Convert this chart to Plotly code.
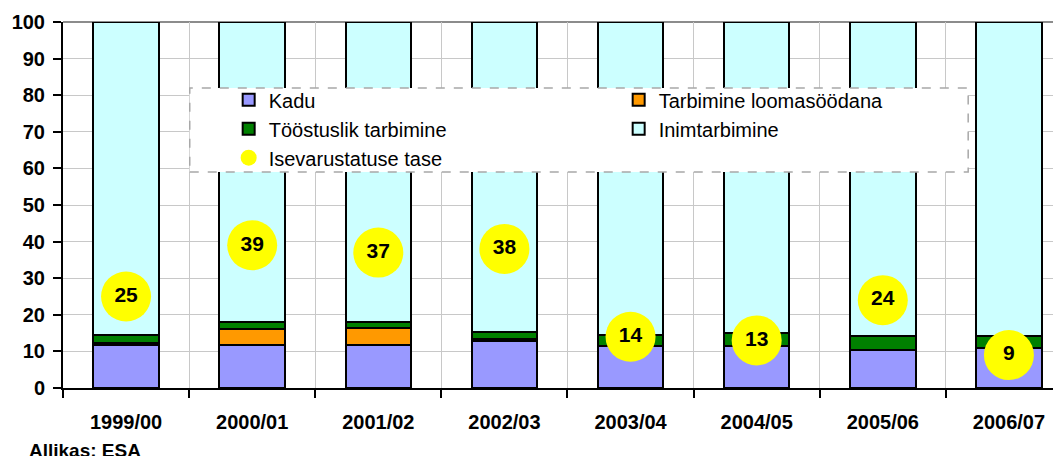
import plotly.graph_objects as go

# Estimated from the reference chart (percent of total use, stacked to 100)
years = ["1999/00", "2000/01", "2001/02", "2002/03", "2003/04", "2004/05", "2005/06", "2006/07"]
kadu = [11.8, 11.8, 11.8, 12.9, 11.4, 11.4, 10.4, 11.0]
loomasoot = [0.6, 4.4, 4.6, 0.4, 0.0, 0.0, 0.0, 0.0]
toostus = [2.0, 1.7, 1.6, 2.0, 3.0, 3.6, 3.9, 3.1]
isevarustatus = [25, 39, 37, 38, 14, 13, 24, 9]

inim = [round(100 - a - b - c, 1) for a, b, c in zip(kadu, loomasoot, toostus)]

FONT = "Liberation Sans, Arial, sans-serif"
BORDER = dict(color="black", width=2)

fig = go.Figure()
for name, vals, color in [
    ("Kadu", kadu, "#9999FF"),
    ("Tarbimine loomasöödana", loomasoot, "#FF9900"),
    ("Tööstuslik tarbimine", toostus, "#008000"),
    ("Inimtarbimine", inim, "#CCFFFF"),
]:
    fig.add_trace(go.Bar(x=years, y=vals, name=name, width=0.52,
                         marker=dict(color=color, line=BORDER)))

# Self-sufficiency bubbles sit at their own value on the same axis
fig.add_trace(go.Scatter(
    x=years, y=isevarustatus, name="Isevarustatuse tase",
    mode="markers+text", text=[str(v) for v in isevarustatus],
    textposition="middle center",
    textfont=dict(family=FONT, size=21, color="black", weight="bold"),
    marker=dict(size=50, color="#FFFF00", line=dict(width=0)),
    cliponaxis=False,
))

# the page body adds an 8px offset, so margins are shifted by 8 to compensate
fig.update_layout(
    width=1061, height=456,
    barmode="stack",
    plot_bgcolor="white", paper_bgcolor="white",
    margin=dict(l=55, r=8, t=14, b=76, autoexpand=False),
    font=dict(family=FONT, color="black"),
    showlegend=True,
    legend=dict(
        orientation="h", entrywidth=345, traceorder="normal",
        x=0.166, y=0.841, xanchor="left", yanchor="top",
        bgcolor="rgba(0,0,0,0)", borderwidth=0,
        font=dict(family=FONT, size=20, color="black"),
    ),
    # dashed legend frame, white so it hides the bars behind it
    shapes=[
        dict(type="rect", xref="paper", yref="paper",
             x0=0.127, x1=0.907, y0=0.590, y1=0.820,
             fillcolor="white", line=dict(color="#a8a8a8", width=1.5, dash="dash"),
             layer="above"),
        dict(type="line", xref="paper", yref="y domain", x0=0, x1=1, y0=1, y1=1,
             line=dict(color="#8c8c8c", width=2), layer="below"),
    ],
    annotations=[
        dict(text="<b>Allikas: ESA</b>", xref="paper", yref="paper",
             x=-0.036, y=-0.137, xanchor="left", yanchor="top", showarrow=False,
             font=dict(family=FONT, size=19, color="black")),
    ],
)

fig.update_xaxes(
    type="category", range=[-0.5, 7.413], tickson="boundaries", automargin=False,
    showgrid=True, gridcolor="#c8c8c8", gridwidth=1,
    ticks="outside", ticklen=8, tickcolor="black", tickwidth=1.5,
    showline=True, linecolor="black", linewidth=2,
    ticklabelstandoff=15,
    tickfont=dict(family=FONT, size=20, color="black", weight="bold"),
)
fig.update_yaxes(
    range=[0, 100], dtick=10, automargin=False,
    showgrid=True, gridcolor="#c8c8c8", gridwidth=1, zeroline=False,
    ticks="outside", ticklen=8, tickcolor="black", tickwidth=1.5,
    showline=True, linecolor="black", linewidth=2,
    ticklabelstandoff=4,
    tickfont=dict(family=FONT, size=20, color="black", weight="bold"),
)

fig.write_html("out.html")
